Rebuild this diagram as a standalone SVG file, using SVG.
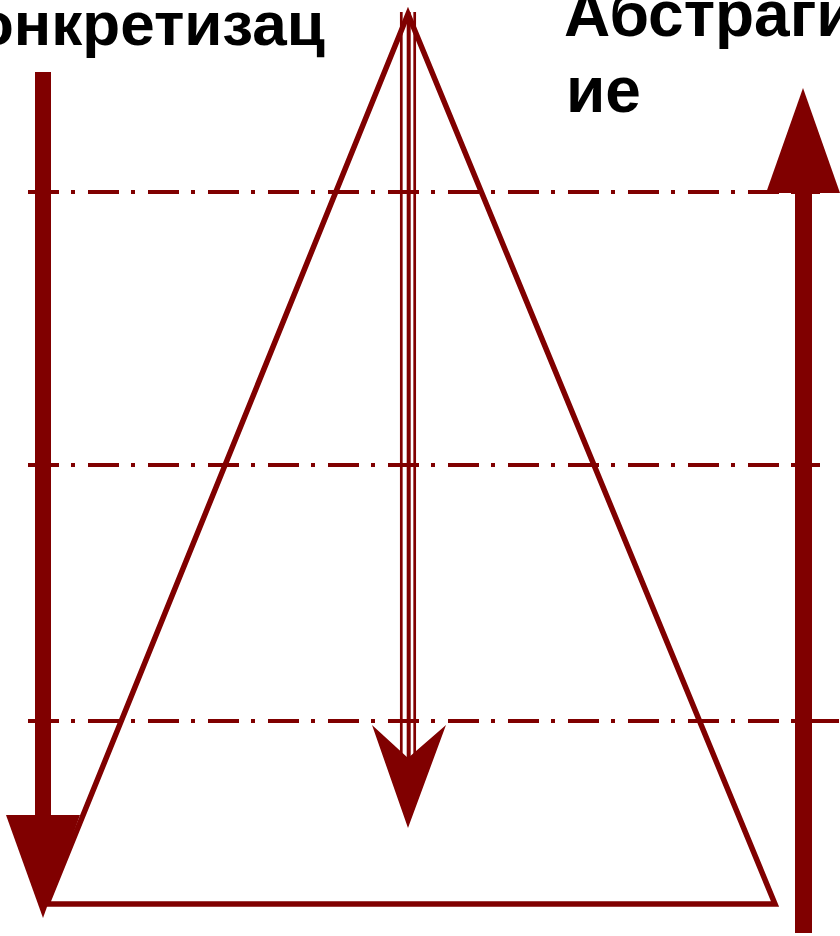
<svg xmlns="http://www.w3.org/2000/svg" width="840" height="936" viewBox="0 0 840 936">
<style>
.lbl{font-family:"Liberation Sans",Arial,sans-serif;font-weight:bold;font-size:64px;fill:#000}
.lbl-l{font-size:62px}
.dd{stroke:#800000;stroke-width:4;fill:none;stroke-dasharray:31 12 4 13}
.fill{fill:#800000}
</style>
<rect width="840" height="936" fill="#fff"/>
<g id="levels">
<line class="dd" x1="28" y1="192" x2="820" y2="192"/>
<line class="dd" x1="28" y1="465" x2="820" y2="465"/>
<line class="dd" x1="28" y1="721" x2="840" y2="721"/>
</g>
<g id="pyramid">
<polygon points="408,14 47,904 775,904" fill="none" stroke="#800000" stroke-width="5.5" stroke-linejoin="miter"/>
</g>
<g id="connectors">
<g id="concretization-arrow">
<rect class="fill" x="35" y="72" width="16" height="745"/>
<polygon class="fill" points="6,815 80,815 43,918"/>
</g>
<g id="abstraction-arrow">
<rect class="fill" x="795" y="190" width="17" height="743"/>
<polygon class="fill" points="766,193 840,193 803,88"/>
</g>
<g id="center-arrow">
<line x1="401.3" y1="12" x2="401.3" y2="760" stroke="#800000" stroke-width="2.7"/>
<line x1="408.7" y1="12" x2="408.7" y2="760" stroke="#800000" stroke-width="4"/>
<line x1="414.7" y1="12" x2="414.7" y2="760" stroke="#800000" stroke-width="2.7"/>
<polygon class="fill" points="372,725 408,758 446,725 408,828"/>
</g>
</g>
<g id="label-left">
<text class="lbl lbl-l" x="-24" y="45">онкретизац</text>
<text class="lbl lbl-l" x="3" y="117" text-anchor="end">и</text>
</g>
<g id="label-right">
<text class="lbl" x="564" y="36">Абстраги</text>
<text class="lbl" x="566" y="112">ие</text>
</g>
</svg>
